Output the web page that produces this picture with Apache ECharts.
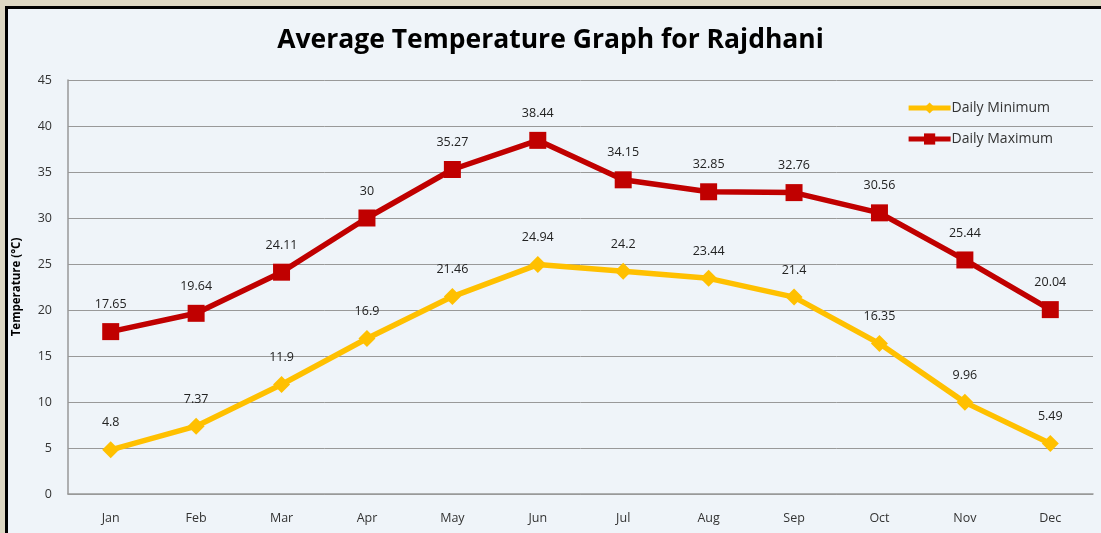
<!DOCTYPE html>
<html>
<head>
<meta charset="utf-8">
<script src="https://cdn.jsdelivr.net/npm/echarts@6/dist/echarts.min.js"></script>
<style>
html,body{margin:0;padding:0;width:1101px;height:533px;overflow:hidden;background:#ddd7c3;}
#frame{position:absolute;left:5px;top:6px;width:1200px;height:600px;border-left:3px solid #000;border-top:3px solid #000;background:#eff4f9;}
#chart{position:absolute;left:0;top:0;width:1101px;height:533px;}
</style>
</head>
<body>
<div id="frame"></div>
<div id="chart"></div>
<script>
const months = ['Jan','Feb','Mar','Apr','May','Jun','Jul','Aug','Sep','Oct','Nov','Dec'];
const dailyMin = [4.8, 7.37, 11.9, 16.9, 21.46, 24.94, 24.2, 23.44, 21.4, 16.35, 9.96, 5.49];
const dailyMax = [17.65, 19.64, 24.11, 30, 35.27, 38.44, 34.15, 32.85, 32.76, 30.56, 25.44, 20.04];
const yTicks = [0, 5, 10, 15, 20, 25, 30, 35, 40, 45];

const chart = echarts.init(document.getElementById('chart'), null, {renderer: 'canvas'});
const font = '"Open Sans", "Noto Sans", sans-serif';
chart.setOption({
  backgroundColor: 'transparent',
  animation: false,
  title: {
    text: 'Average Temperature Graph for Rajdhani',
    left: 'center',
    top: 22,
    textStyle: {fontFamily: font, fontSize: 26.5, fontWeight: 'bold', color: '#000'}
  },
  legend: {
    right: 43,
    top: 96,
    orient: 'vertical',
    itemGap: 17,
    itemWidth: 42,
    itemHeight: 14,
    lineStyle: {width: 5},
    textStyle: {fontFamily: font, fontSize: 14, color: '#333', padding: [0,0,0,-4]},
    data: ['Daily Minimum', 'Daily Maximum']
  },
  grid: {left: 68, right: 8, top: 80, bottom: 39},
  xAxis: {
    type: 'category',
    data: months,
    boundaryGap: true,
    axisLine: {lineStyle: {color: '#999', width: 1.5}},
    axisTick: {show: false},
    axisLabel: {fontFamily: font, fontSize: 12.5, color: '#333', margin: 18}
  },
  yAxis: {
    type: 'value',
    min: yTicks[0],
    max: yTicks[yTicks.length - 1],
    interval: 5,
    name: 'Temperature (°C)',
    nameLocation: 'middle',
    nameGap: 45,
    nameTextStyle: {fontFamily: font, fontSize: 11.5, fontWeight: 'bold', color: '#000'},
    axisLine: {show: true, lineStyle: {color: '#999', width: 1.5}},
    axisTick: {show: false},
    axisLabel: {fontFamily: font, fontSize: 12.5, color: '#333', margin: 16},
    splitLine: {lineStyle: {color: '#999', width: 1}}
  },
  series: [
    {
      name: 'Daily Minimum',
      type: 'line',
      data: dailyMin,
      symbol: 'diamond',
      symbolSize: 17,
      color: '#ffc000',
      lineStyle: {width: 5.5, color: '#ffc000'},
      itemStyle: {color: '#ffc000'},
      label: {show: true, position: 'top', distance: 12, fontFamily: font, fontSize: 12.5, color: '#222'}
    },
    {
      name: 'Daily Maximum',
      type: 'line',
      data: dailyMax,
      symbol: 'rect',
      symbolSize: 17,
      color: '#c00000',
      lineStyle: {width: 5.5, color: '#c00000'},
      itemStyle: {color: '#c00000'},
      label: {show: true, position: 'top', distance: 12, fontFamily: font, fontSize: 12.5, color: '#222'}
    }
  ]
});
</script>
</body>
</html>
